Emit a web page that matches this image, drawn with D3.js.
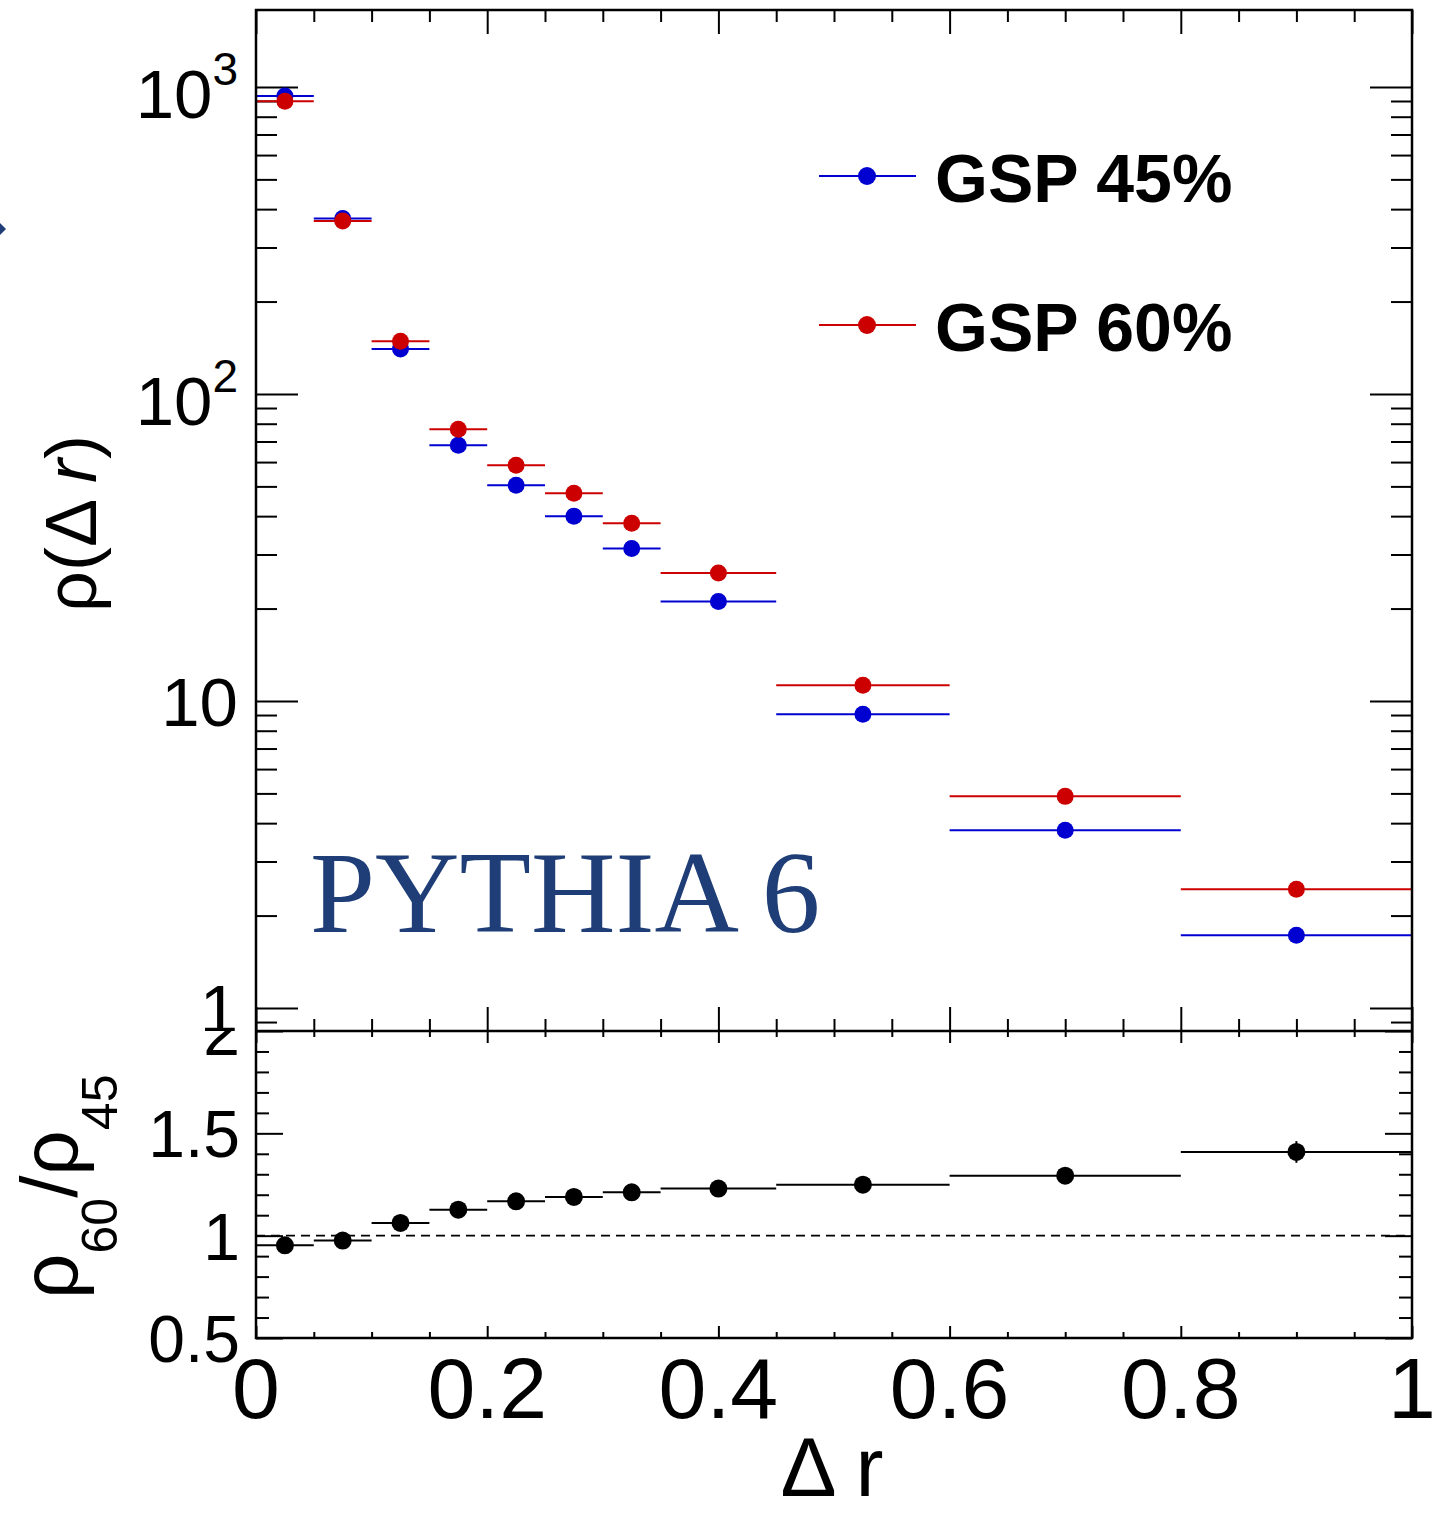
<!DOCTYPE html>
<html>
<head>
<meta charset="utf-8">
<script src="https://cdn.jsdelivr.net/npm/d3@7"></script>
<style>
  body { margin: 0; background: #fff; }
  svg { display: block; }
  text { font-family: "Liberation Sans", Arial, Helvetica, sans-serif; }
</style>
</head>
<body>
<div id="gsp_plot"></div>
<script>
// bin edges in delta r
const binEdges = [0, 0.05, 0.1, 0.15, 0.2, 0.25, 0.3, 0.35, 0.45, 0.6, 0.8, 1.0];
const rho45 = [935, 373, 140, 68.1, 50.4, 40.0, 31.4, 21.1, 9.05, 3.79, 1.725];
const rho60 = [898, 366, 148.5, 76.7, 58.6, 47.5, 37.9, 26.1, 11.25, 4.89, 2.435];
const ratio = [0.953, 0.976, 1.062, 1.127, 1.168, 1.189, 1.212, 1.23, 1.249, 1.293, 1.409];
const ratioErr = [0.01, 0.01, 0.01, 0.01, 0.01, 0.01, 0.01, 0.012, 0.015, 0.02, 0.053];

const seriesNames = ["GSP 45%", "GSP 60%"];
const seriesColors = ["#0000d0", "#cc0000"];

const xMajorTicks = [0, 0.2, 0.4, 0.6, 0.8, 1];
const xMinorTicks = [0.05, 0.1, 0.15, 0.25, 0.3, 0.35, 0.45, 0.5, 0.55, 0.65, 0.7, 0.75, 0.85, 0.9, 0.95];
const logMajorTicks = [1, 10, 100, 1000];
const logMinorTicks = [0.9, 2, 3, 4, 5, 6, 7, 8, 9, 20, 30, 40, 50, 60, 70, 80, 90,
                       200, 300, 400, 500, 600, 700, 800, 900];
const logTickLabels = [["1", ""], ["10", ""], ["10", "2"], ["10", "3"]];
const ratioMajorTicks = [0.5, 1, 1.5, 2];
const ratioMinorTicks = [0.6, 0.7, 0.8, 0.9, 1.1, 1.2, 1.3, 1.4, 1.6, 1.7, 1.8, 1.9];
const ratioTickLabels = ["0.5", "1", "1.5", "2"];

const W = 1434, H = 1513;
const frameLeft = 256, frameRight = 1412, frameTop = 10, frameSplit = 1031, frameBottom = 1338;

const svg = d3.select("#gsp_plot")
    .append("svg")
        .attr("width", W)
        .attr("height", H);

// each pad clips its own content, like the ROOT canvas did
const defs = svg.append("defs");
defs.append("clipPath").attr("id", "clipTop")
    .append("rect").attr("x", 0).attr("y", 0).attr("width", W).attr("height", frameSplit);
defs.append("clipPath").attr("id", "clipBot")
    .append("rect").attr("x", 0).attr("y", frameSplit).attr("width", W).attr("height", H - frameSplit);

const x = d3.scaleLinear().domain([0, 1]).range([frameLeft, frameRight]);
const yTop = d3.scaleLog().domain([0.8415, 1781]).range([frameSplit, frameTop]);
const yBot = d3.scaleLinear().domain([0.5, 2]).range([frameBottom, frameSplit]);

const centers = binEdges.slice(0, -1).map((e, i) => (e + binEdges[i + 1]) / 2);

function styleAxis(g) {
    g.select(".domain").remove();
    g.selectAll("line").attr("stroke", "#000").attr("stroke-width", 2);
    g.selectAll("text").remove();
}

// ---------------- top pad ----------------
const topPad = svg.append("g").attr("clip-path", "url(#clipTop)");

topPad.append("g").attr("transform", `translate(${frameLeft},0)`)
    .call(d3.axisRight(yTop).tickValues(logMajorTicks).tickSize(42)).call(styleAxis);
topPad.append("g").attr("transform", `translate(${frameLeft},0)`)
    .call(d3.axisRight(yTop).tickValues(logMinorTicks).tickSize(21)).call(styleAxis);
topPad.append("g").attr("transform", `translate(${frameRight},0)`)
    .call(d3.axisLeft(yTop).tickValues(logMajorTicks).tickSize(42)).call(styleAxis);
topPad.append("g").attr("transform", `translate(${frameRight},0)`)
    .call(d3.axisLeft(yTop).tickValues(logMinorTicks).tickSize(21)).call(styleAxis);
topPad.append("g").attr("transform", `translate(0,${frameTop})`)
    .call(d3.axisBottom(x).tickValues(xMajorTicks).tickSize(24)).call(styleAxis);
topPad.append("g").attr("transform", `translate(0,${frameTop})`)
    .call(d3.axisBottom(x).tickValues(xMinorTicks).tickSize(12)).call(styleAxis);
topPad.append("g").attr("transform", `translate(0,${frameSplit})`)
    .call(d3.axisTop(x).tickValues(xMajorTicks).tickSize(24)).call(styleAxis);
topPad.append("g").attr("transform", `translate(0,${frameSplit})`)
    .call(d3.axisTop(x).tickValues(xMinorTicks).tickSize(12)).call(styleAxis);

// log tick labels, 10^n with superscript
logMajorTicks.forEach(function(v, i) {
    const lab = logTickLabels[i];
    const t = topPad.append("text")
        .attr("x", 238)
        .attr("y", yTop(v) + (lab[1] ? 31 : 25))
        .attr("text-anchor", "end")
        .attr("font-size", 69);
    t.append("tspan").text(lab[0]);
    if (lab[1]) {
        t.append("tspan").attr("font-size", 46).attr("dy", -33).text(lab[1]);
    }
});

// points with horizontal bin-width error bars
[rho45, rho60].forEach(function(vals, s) {
    const grp = topPad.append("g");
    grp.selectAll("line")
        .data(vals)
        .enter()
        .append("line")
            .attr("x1", (d, i) => x(binEdges[i]))
            .attr("x2", (d, i) => x(binEdges[i + 1]))
            .attr("y1", d => yTop(d))
            .attr("y2", d => yTop(d))
            .attr("stroke", seriesColors[s])
            .attr("stroke-width", 2);
    grp.selectAll("circle")
        .data(vals)
        .enter()
        .append("circle")
            .attr("cx", (d, i) => x(centers[i]))
            .attr("cy", d => yTop(d))
            .attr("r", 8.5)
            .attr("fill", seriesColors[s]);
});

// legend
seriesNames.forEach(function(name, s) {
    const ly = 176 + s * 149;
    topPad.append("line")
        .attr("x1", 819).attr("x2", 916)
        .attr("y1", ly).attr("y2", ly)
        .attr("stroke", seriesColors[s]).attr("stroke-width", 2);
    topPad.append("circle")
        .attr("cx", 867).attr("cy", ly).attr("r", 9)
        .attr("fill", seriesColors[s]);
    topPad.append("text")
        .attr("x", 935).attr("y", ly + 26)
        .attr("font-size", 68).attr("font-weight", "bold")
        .text(name);
});

topPad.append("text")
    .attr("x", 310).attr("y", 932)
    .style("font-family", "'Liberation Serif', 'Times New Roman', serif")
    .attr("font-size", 117)
    .attr("fill", "#1f3e77")
    .text("PYTHIA 6");

// y title
const yTitle = topPad.append("text")
    .attr("transform", "translate(96,612) rotate(-90)")
    .attr("font-size", 72);
yTitle.append("tspan").text("ρ(Δ ");
yTitle.append("tspan").attr("font-style", "italic").text("r");
yTitle.append("tspan").text(")");

topPad.append("rect")
    .attr("x", frameLeft).attr("y", frameTop)
    .attr("width", frameRight - frameLeft).attr("height", frameSplit - frameTop)
    .attr("fill", "none").attr("stroke", "#000").attr("stroke-width", 2.5);

// small arrow fragment at left edge
topPad.append("path")
    .attr("d", "M0,223 L6,229 L0,235 Z")
    .attr("fill", "#1f3e77");

// ---------------- bottom pad ----------------
const botPad = svg.append("g").attr("clip-path", "url(#clipBot)");

botPad.append("g").attr("transform", `translate(${frameLeft},0)`)
    .call(d3.axisRight(yBot).tickValues(ratioMajorTicks).tickSize(27)).call(styleAxis);
botPad.append("g").attr("transform", `translate(${frameLeft},0)`)
    .call(d3.axisRight(yBot).tickValues(ratioMinorTicks).tickSize(13)).call(styleAxis);
botPad.append("g").attr("transform", `translate(${frameRight},0)`)
    .call(d3.axisLeft(yBot).tickValues(ratioMajorTicks).tickSize(27)).call(styleAxis);
botPad.append("g").attr("transform", `translate(${frameRight},0)`)
    .call(d3.axisLeft(yBot).tickValues(ratioMinorTicks).tickSize(13)).call(styleAxis);
botPad.append("g").attr("transform", `translate(0,${frameBottom})`)
    .call(d3.axisTop(x).tickValues(xMajorTicks).tickSize(12)).call(styleAxis);
botPad.append("g").attr("transform", `translate(0,${frameBottom})`)
    .call(d3.axisTop(x).tickValues(xMinorTicks).tickSize(6)).call(styleAxis);
botPad.append("g").attr("transform", `translate(0,${frameSplit})`)
    .call(d3.axisBottom(x).tickValues(xMajorTicks).tickSize(12)).call(styleAxis);
botPad.append("g").attr("transform", `translate(0,${frameSplit})`)
    .call(d3.axisBottom(x).tickValues(xMinorTicks).tickSize(6)).call(styleAxis);

botPad.selectAll(".rlab")
    .data(ratioMajorTicks)
    .enter()
    .append("text")
        .attr("x", 240)
        .attr("y", d => yBot(d) + 24)
        .attr("text-anchor", "end")
        .attr("font-size", 66)
        .text((d, i) => ratioTickLabels[i]);

botPad.selectAll(".xlab")
    .data(xMajorTicks)
    .enter()
    .append("text")
        .attr("x", d => x(d))
        .attr("y", 1418)
        .attr("text-anchor", "middle")
        .attr("font-size", 86)
        .text(d => d3.format("~g")(d));

botPad.append("text")
    .attr("x", 832).attr("y", 1496)
    .attr("text-anchor", "middle")
    .attr("font-size", 84)
    .text("Δ r");

const rTitle = botPad.append("text")
    .attr("transform", "translate(77,1299) rotate(-90)")
    .attr("font-size", 80);
rTitle.append("tspan").text("ρ");
rTitle.append("tspan").attr("font-size", 50).attr("dy", 40).text("60");
rTitle.append("tspan").attr("dy", -40).text("/ρ");
rTitle.append("tspan").attr("font-size", 50).attr("dy", 40).text("45");

// reference line at ratio 1
botPad.append("line")
    .attr("x1", frameLeft).attr("x2", frameRight)
    .attr("y1", yBot(1)).attr("y2", yBot(1))
    .attr("stroke", "#000").attr("stroke-width", 1.8)
    .attr("stroke-dasharray", "9,6");

const rg = botPad.append("g");
rg.selectAll(".hbar")
    .data(ratio)
    .enter()
    .append("line")
        .attr("x1", (d, i) => x(binEdges[i]))
        .attr("x2", (d, i) => x(binEdges[i + 1]))
        .attr("y1", d => yBot(d))
        .attr("y2", d => yBot(d))
        .attr("stroke", "#000").attr("stroke-width", 2);
rg.selectAll(".vbar")
    .data(ratio)
    .enter()
    .append("line")
        .attr("x1", (d, i) => x(centers[i]))
        .attr("x2", (d, i) => x(centers[i]))
        .attr("y1", (d, i) => yBot(d - ratioErr[i]))
        .attr("y2", (d, i) => yBot(d + ratioErr[i]))
        .attr("stroke", "#000").attr("stroke-width", 2);
rg.selectAll("circle")
    .data(ratio)
    .enter()
    .append("circle")
        .attr("cx", (d, i) => x(centers[i]))
        .attr("cy", d => yBot(d))
        .attr("r", 9)
        .attr("fill", "#000");

botPad.append("rect")
    .attr("x", frameLeft).attr("y", frameSplit)
    .attr("width", frameRight - frameLeft).attr("height", frameBottom - frameSplit)
    .attr("fill", "none").attr("stroke", "#000").attr("stroke-width", 2.5);
</script>
</body>
</html>
